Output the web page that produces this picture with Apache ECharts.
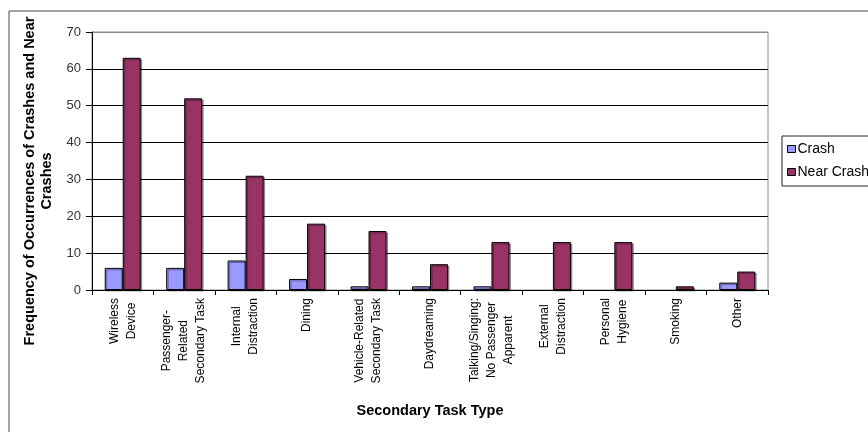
<!DOCTYPE html>
<html>
<head>
<meta charset="utf-8">
<script src="https://cdn.jsdelivr.net/npm/echarts@6/dist/echarts.min.js"></script>
<style>html,body{margin:0;padding:0;background:#fff}#c{width:868px;height:432px}</style>
</head>
<body>
<div id="c"></div>
<script>
const categories = [
  "Wireless\nDevice",
  "Passenger-\nRelated\nSecondary Task",
  "Internal\nDistraction",
  "Dining",
  "Vehicle-Related\nSecondary Task",
  "Daydreaming",
  "Talking/Singing:\nNo Passenger\nApparent",
  "External\nDistraction",
  "Personal\nHygiene",
  "Smoking",
  "Other"
];
const crash = [6, 6, 8, 3, 1, 1, 1, 0, 0, 0, 2];
const nearCrash = [63, 52, 31, 18, 16, 7, 13, 13, 13, 1, 5];
const yTicks = [0, 10, 20, 30, 40, 50, 60, 70];

const chart = echarts.init(document.getElementById('c'), null, {renderer: 'canvas'});
const font = 'Arial, "Liberation Sans", sans-serif';
const gridColors = yTicks.map((v, i) => i === yTicks.length - 1 ? '#8c8c8c' : '#000');
// zero values are not drawn as bars in the original
const hideZero = arr => arr.map(v => v === 0 ? '-' : v);

chart.setOption({
  backgroundColor: '#fff',
  animation: false,
  textStyle: {fontFamily: font},
  graphic: [{
    type: 'rect', left: 6.5, top: 8.5, silent: true, z: -10,
    shape: {width: 900, height: 500},
    style: {fill: 'none', stroke: '#444', lineWidth: 1}
  }],
  legend: {
    orient: 'vertical', left: 782, top: 136,
    padding: [5, 40, 6, 5], itemGap: 7,
    itemWidth: 8, itemHeight: 7, icon: 'rect',
    borderColor: '#222', borderWidth: 1,
    textStyle: {fontSize: 14, lineHeight: 16, color: '#000', fontFamily: font, padding: [0, 0, 0, -3]},
    itemStyle: {borderColor: '#000', borderWidth: 1},
    data: ['Crash', 'Near Crash']
  },
  grid: {left: 92, right: 100, top: 32, bottom: 142, show: true, borderColor: '#8c8c8c', borderWidth: 1,
    containLabel: false, outerBoundsMode: 'none'},
  xAxis: {
    type: 'category', data: categories,
    name: 'Secondary Task Type', nameLocation: 'middle', nameGap: 113,
    nameTextStyle: {fontSize: 14.5, fontWeight: 'bold', color: '#000', fontFamily: font},
    axisLine: {lineStyle: {color: '#000', width: 1}},
    axisTick: {show: true, length: 5, lineStyle: {color: '#000'}},
    axisLabel: {
      rotate: 90, interval: 0, margin: 8, color: '#000', fontSize: 12, lineHeight: 17,
      fontFamily: font,
      formatter: v => v.split('\n').map(s => '{c|' + s + '}').join('\n'),
      rich: {c: {align: 'center', fontSize: 12, lineHeight: 17, fontFamily: font, color: '#000'}}
    }
  },
  yAxis: {
    type: 'value', min: 0, max: 70, interval: 10,
    name: 'Frequency of Occurrences of Crashes and Near\nCrashes',
    nameLocation: 'middle', nameGap: 34, nameRotate: 90,
    nameTextStyle: {fontSize: 14.5, fontWeight: 'bold', color: '#000', lineHeight: 17, fontFamily: font, padding: [0, 40, 0, 0]},
    axisLine: {show: true, lineStyle: {color: '#000', width: 1}},
    axisTick: {show: true, length: 6, lineStyle: {color: '#000'}},
    axisLabel: {color: '#333', fontSize: 13, margin: 11, fontFamily: font},
    splitLine: {show: true, lineStyle: {color: gridColors, width: 1}}
  },
  series: [{
    name: 'Crash', type: 'bar', data: hideZero(crash),
    barWidth: 18, barGap: '0%',
    itemStyle: {color: '#9999ff', borderColor: '#000', borderWidth: 1,
      shadowColor: 'rgba(0,0,0,0.35)', shadowOffsetX: 1.5, shadowOffsetY: 1.5, shadowBlur: 0}
  }, {
    name: 'Near Crash', type: 'bar', data: hideZero(nearCrash),
    barWidth: 18, barGap: '0%',
    itemStyle: {color: '#993366', borderColor: '#000', borderWidth: 1,
      shadowColor: 'rgba(0,0,0,0.35)', shadowOffsetX: 1.5, shadowOffsetY: 1.5, shadowBlur: 0}
  }]
});
</script>
</body>
</html>
